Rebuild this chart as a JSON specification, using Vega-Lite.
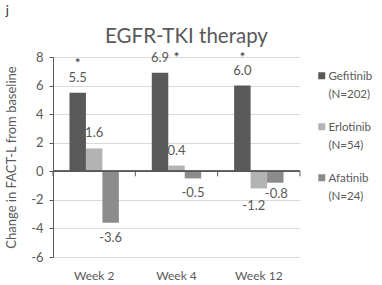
{
  "$schema": "https://vega.github.io/schema/vega-lite/v6.json",
  "padding": {"left": 5, "top": 5, "right": 5, "bottom": 5},
  "background": "white",
  "title": {"text": "j", "anchor": "start", "fontSize": 13, "font": "Lato", "fontWeight": "normal", "color": "#333333", "offset": 9},
  "datasets": {
    "bars": [
      {"week": "Week 2", "drug": "Gefitinib (N=202)", "value": 5.5},
      {"week": "Week 2", "drug": "Erlotinib (N=54)", "value": 1.6},
      {"week": "Week 2", "drug": "Afatinib (N=24)", "value": -3.6},
      {"week": "Week 4", "drug": "Gefitinib (N=202)", "value": 6.9},
      {"week": "Week 4", "drug": "Erlotinib (N=54)", "value": 0.4},
      {"week": "Week 4", "drug": "Afatinib (N=24)", "value": -0.5},
      {"week": "Week 12", "drug": "Gefitinib (N=202)", "value": 6.0},
      {"week": "Week 12", "drug": "Erlotinib (N=54)", "value": -1.2},
      {"week": "Week 12", "drug": "Afatinib (N=24)", "value": -0.8}
    ],
    "stars": [
      {"week": "Week 2", "drug": "Gefitinib (N=202)", "pos": 7.5},
      {"week": "Week 4", "drug": "Erlotinib (N=54)", "pos": 7.9},
      {"week": "Week 12", "drug": "Gefitinib (N=202)", "pos": 7.95}
    ]
  },
  "vconcat": [
    {
      "width": 247,
      "height": 200,
      "title": {"text": "EGFR-TKI therapy", "fontSize": 20.5, "font": "Lato", "fontWeight": "normal", "color": "#595959", "dx": 10, "offset": 3},
      "data": {"name": "bars"},
      "encoding": {
        "x": {"field": "week", "type": "nominal", "sort": ["Week 2", "Week 4", "Week 12"],
              "scale": {"paddingInner": 0, "paddingOuter": 0},
              "axis": {"title": null, "labelAngle": 0, "domain": false, "ticks": false, "labelPadding": 13, "labelFontSize": 12, "labelFont": "Lato", "labelColor": "#595959"}},
        "xOffset": {"field": "drug", "type": "nominal", "scale": {"domain": ["Gefitinib (N=202)", "Erlotinib (N=54)", "Afatinib (N=24)"], "paddingInner": 0, "paddingOuter": 1.2}},
        "y": {"field": "value", "type": "quantitative",
              "scale": {"domain": [-6, 8], "nice": false},
              "axis": {"title": "Change in FACT-L from baseline", "values": [-6, -4, -2, 0, 2, 4, 6, 8], "format": "d",
                       "titleFontSize": 13, "titleFont": "Lato", "titleFontWeight": "normal", "titleColor": "#595959", "titlePadding": 12,
                       "labelFontSize": 13, "labelFont": "Lato", "labelColor": "#595959", "labelPadding": 6,
                       "domainColor": "#595959", "tickColor": "#595959", "tickSize": 4, "gridColor": "#d9d9d9"}}
      },
      "layer": [
        {
          "mark": {"type": "bar"},
          "encoding": {
            "color": {"field": "drug", "type": "nominal",
                      "scale": {"domain": ["Gefitinib (N=202)", "Erlotinib (N=54)", "Afatinib (N=24)"], "range": ["#595959", "#b3b3b3", "#8c8c8c"]},
                      "legend": {"title": null, "orient": "none", "legendX": 263, "legendY": 13, "symbolType": "square", "symbolSize": 49, "symbolStrokeWidth": 0,
                                 "labelFontSize": 11.5, "labelFont": "Lato", "labelColor": "#595959", "labelBaseline": "alphabetic", "labelOffset": 1,
                                 "labelExpr": "split(datum.label, ' ')", "rowPadding": 20,
                                 "encode": {"labels": {"update": {"lineHeight": {"value": 18}, "dy": {"value": 4}}}}}}
          }
        },
        {
          "transform": [{"filter": "datum.value >= 0"}],
          "mark": {"type": "text", "baseline": "bottom", "dy": -8, "fontSize": 13, "font": "Lato", "color": "#595959"},
          "encoding": {"text": {"field": "value", "type": "quantitative", "format": ".1f"}}
        },
        {
          "transform": [{"filter": "datum.value < 0 && datum.week !== 'Week 12'"}],
          "mark": {"type": "text", "baseline": "top", "dy": 9, "fontSize": 13, "font": "Lato", "color": "#595959"},
          "encoding": {"text": {"field": "value", "type": "quantitative", "format": ".1f"}}
        },
        {
          "transform": [{"filter": "datum.week === 'Week 12' && datum.drug === 'Erlotinib (N=54)'"}],
          "mark": {"type": "text", "baseline": "top", "dy": 12, "dx": -5, "fontSize": 13, "font": "Lato", "color": "#595959"},
          "encoding": {"text": {"field": "value", "type": "quantitative", "format": ".1f"}}
        },
        {
          "transform": [{"filter": "datum.week === 'Week 12' && datum.drug === 'Afatinib (N=24)'"}],
          "mark": {"type": "text", "baseline": "top", "dy": 5, "dx": 1, "fontSize": 13, "font": "Lato", "color": "#595959"},
          "encoding": {"text": {"field": "value", "type": "quantitative", "format": ".1f"}}
        },
        {
          "mark": {"type": "rule", "color": "#595959", "strokeWidth": 1},
          "encoding": {"x": null, "xOffset": null, "y": {"datum": 0}}
        },
        {
          "transform": [{"filter": "datum.drug === 'Gefitinib (N=202)'"}],
          "mark": {"type": "rule", "color": "#595959", "strokeWidth": 1},
          "encoding": {"x": {"field": "week", "type": "nominal", "sort": ["Week 2", "Week 4", "Week 12"], "bandPosition": 0}, "xOffset": null, "y": {"datum": 0}, "y2": {"datum": -0.35}}
        },
        {
          "transform": [{"filter": "datum.drug === 'Gefitinib (N=202)' && datum.week === 'Week 12'"}],
          "mark": {"type": "rule", "color": "#595959", "strokeWidth": 1},
          "encoding": {"x": {"field": "week", "type": "nominal", "sort": ["Week 2", "Week 4", "Week 12"], "bandPosition": 1}, "xOffset": null, "y": {"datum": 0}, "y2": {"datum": -0.35}}
        },
        {
          "data": {"name": "stars"},
          "mark": {"type": "text", "baseline": "middle", "fontSize": 14, "font": "Lato", "color": "#333333"},
          "encoding": {"y": {"field": "pos", "type": "quantitative"}, "text": {"value": "*"}}
        }
      ]
    }
  ],
  "config": {
    "view": {"stroke": null},
    "font": "Lato",
    "locale": {"number": {"decimal": ".", "thousands": ",", "grouping": [3], "currency": ["$", ""], "minus": "-"}}
  }
}
